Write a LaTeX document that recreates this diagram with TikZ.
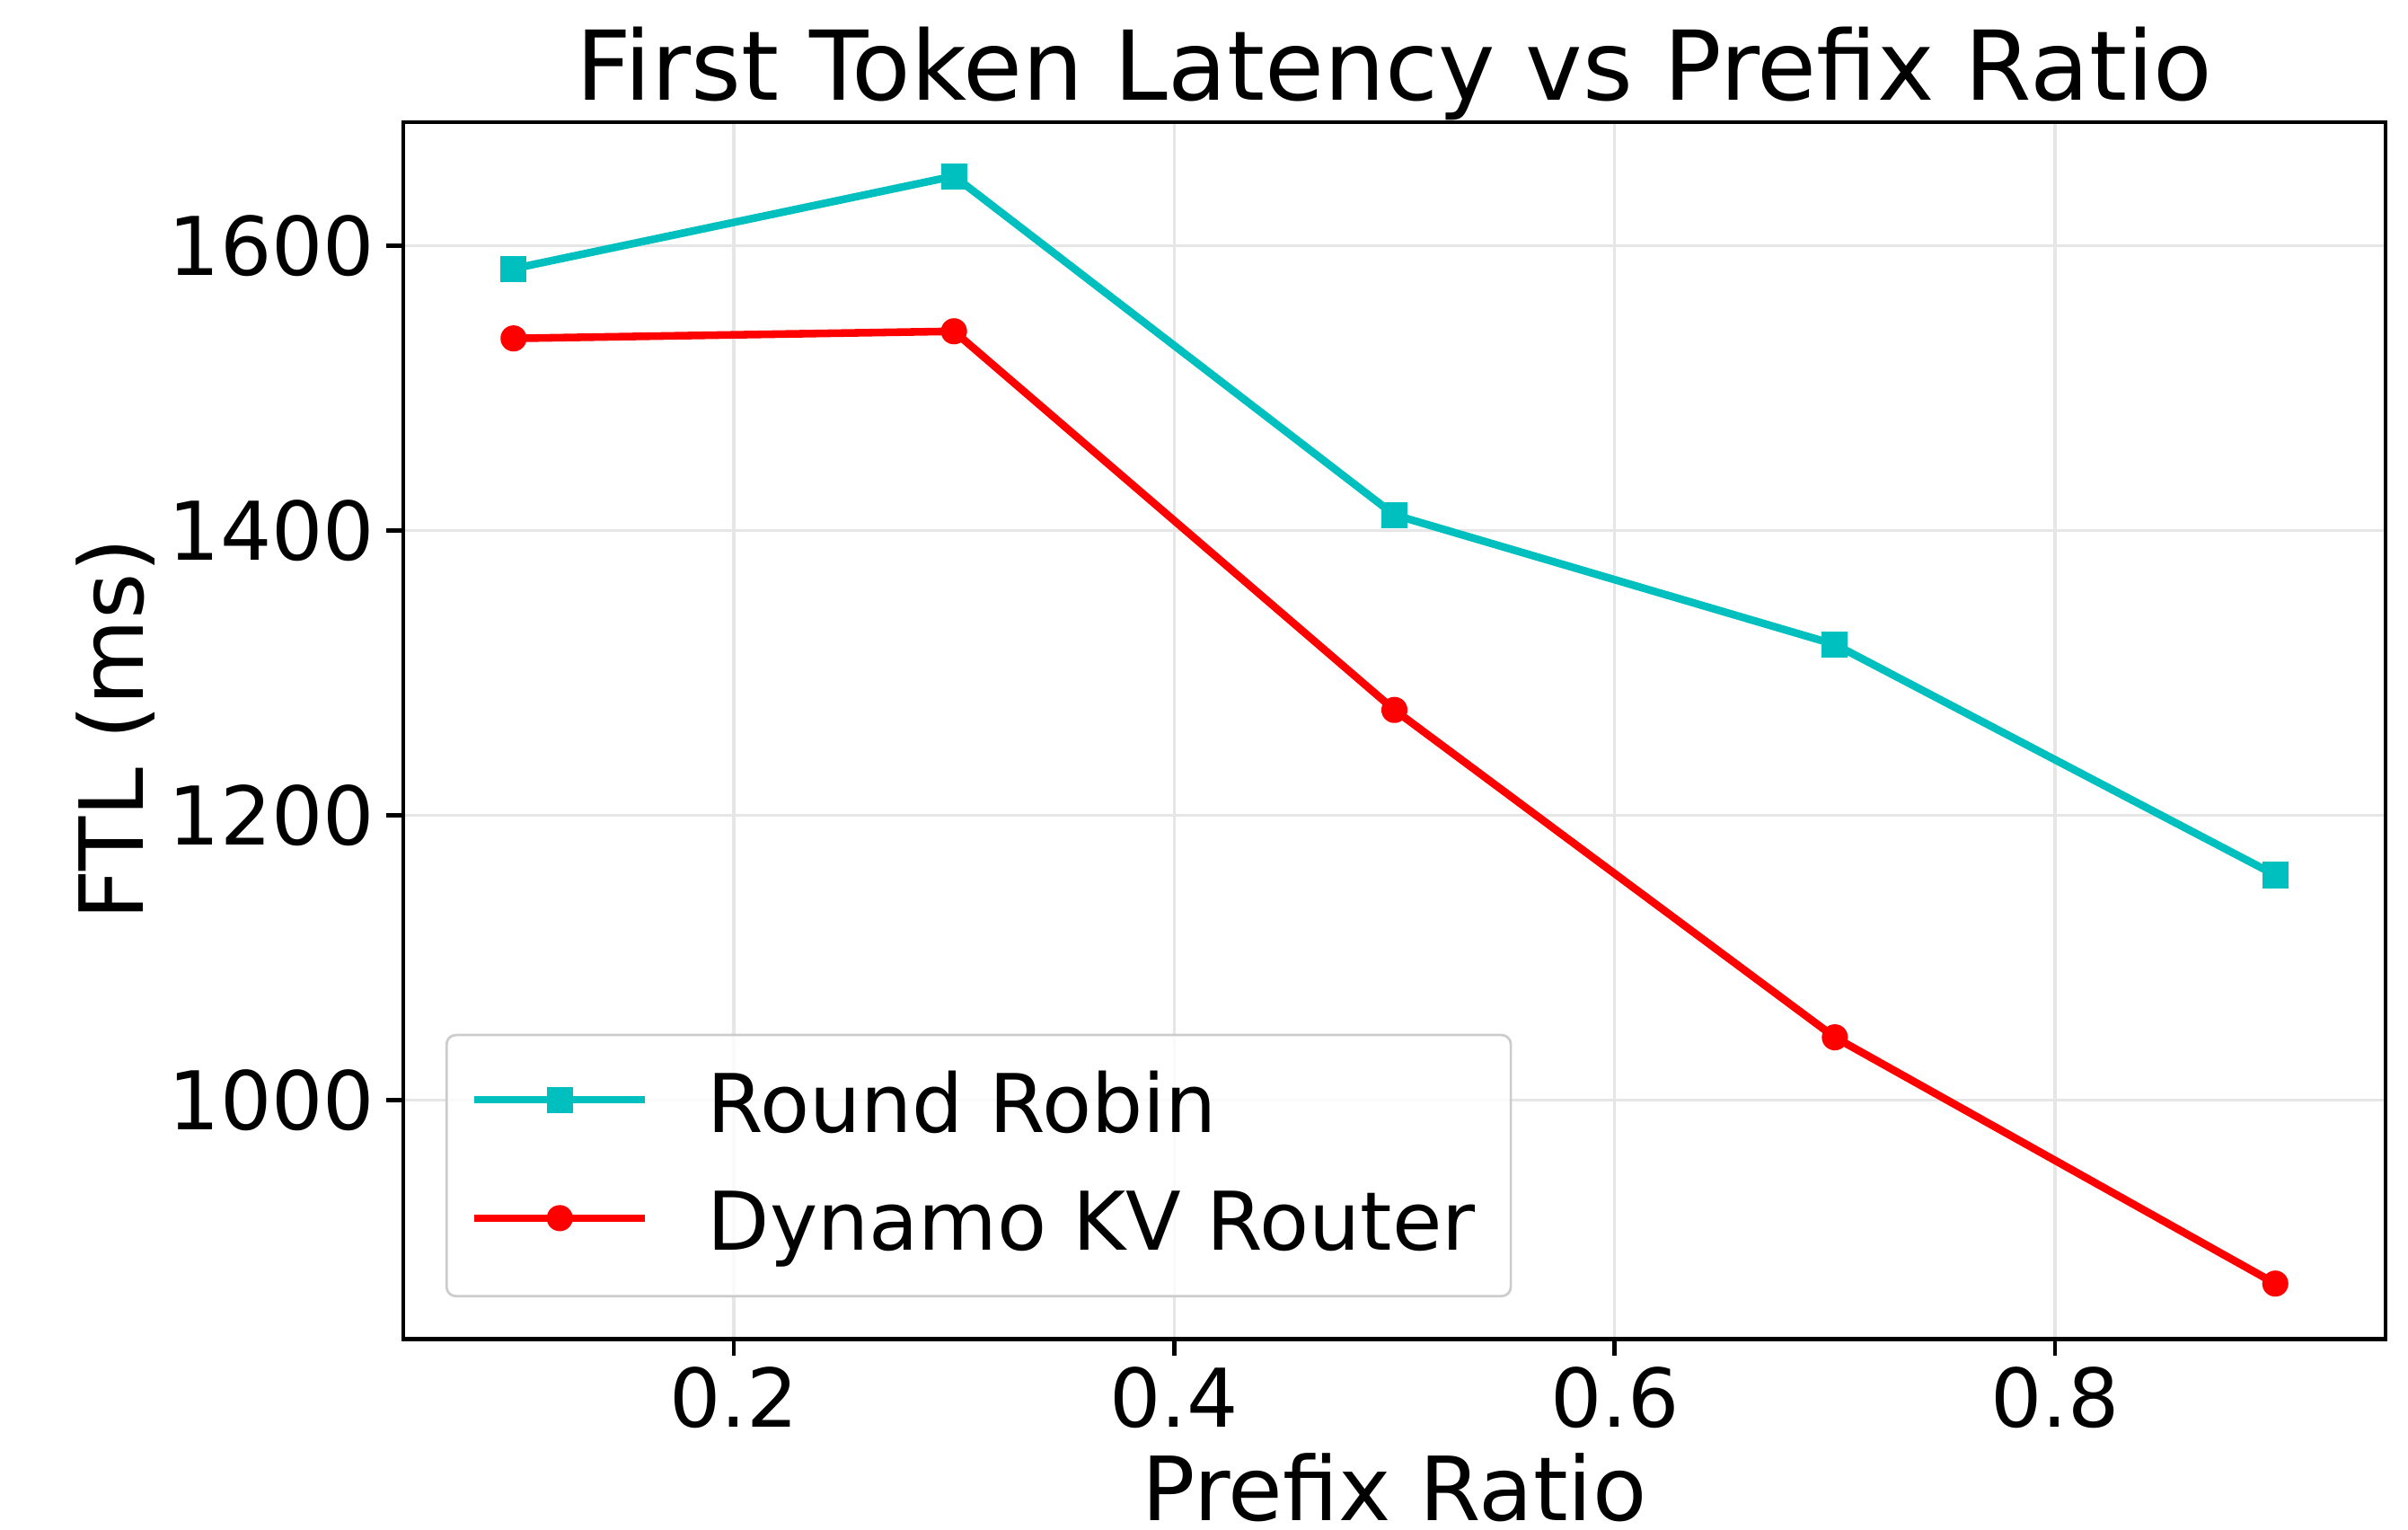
\documentclass[tikz,border=0pt]{standalone}
\usepackage{fontspec}
\setmainfont{DejaVu Sans}
\definecolor{rrcol}{rgb}{0,0.75,0.75}
\definecolor{kvcol}{rgb}{1,0,0}
\definecolor{gridcol}{HTML}{E6E6E6}
\definecolor{legedge}{HTML}{CCCCCC}
\tikzset{
  ticklabel/.style={inner sep=0pt, font=\fontsize{15}{18}\selectfont},
  axlabel/.style={inner sep=0pt, font=\fontsize{16.4}{19}\selectfont},
  titletext/.style={inner sep=0pt, font=\fontsize{17.85}{21}\selectfont},
  gridline/.style={draw=gridcol, line width=0.2mm},
  spine/.style={draw=black, line width=0.27mm},
  tickmark/.style={draw=black, line width=0.27mm},
  series/.style={line width=0.5mm, line join=round},
  sqmark/.style={rectangle, fill=rrcol, minimum size=1.7mm, inner sep=0pt},
  dotmark/.style={circle, fill=kvcol, minimum size=1.7mm, inner sep=0pt},
  legendbox/.style={draw=legedge, line width=0.16mm, fill=white, fill opacity=0.8,
    rounded corners=0.6mm, inner sep=0pt, anchor=north west},
}
\begin{document}
\begin{tikzpicture}[x=0.1mm, y=-0.1mm]
\useasboundingbox (0,0) rectangle (1568,996);
\fill[white] (0,0) rectangle (1568,996);

% plotting area: x from 0.05 to 0.95, y from 832 to 1687 ms
\begin{scope}[shift={(191,1642.7)}, x=143.4mm, y=0.09267mm]
  \coordinate (ll) at (0.05,832);
  \coordinate (ur) at (0.95,1687);
  % grid
  \foreach \gx in {0.2,0.4,0.6,0.8}
    \draw[gridline] (\gx,832) -- (\gx,1687);
  \foreach \gy in {1000,1200,1400,1600}
    \draw[gridline] (0.05,\gy) -- (0.95,\gy);
  % ticks and tick labels
  \foreach \gx in {0.2,0.4,0.6,0.8} {
    \draw[tickmark] (\gx,832) -- ++(0mm,-1.1mm);
    \node[ticklabel] (xt\gx) at ([yshift=-3.8mm]\gx,832) {\gx};
  }
  \foreach \gy in {1000,1200,1400,1600} {
    \draw[tickmark] (0.05,\gy) -- ++(-1.1mm,0mm);
    \node[ticklabel, anchor=east] (yt\gy) at ([xshift=-1.8mm]0.05,\gy) {\gy};
  }
  % data points
  \coordinate (rr1) at (0.1,1584);
  \coordinate (rr2) at (0.3,1649);
  \coordinate (rr3) at (0.5,1411);
  \coordinate (rr4) at (0.7,1320);
  \coordinate (rr5) at (0.9,1158);
  \coordinate (kv1) at (0.1,1535);
  \coordinate (kv2) at (0.3,1540);
  \coordinate (kv3) at (0.5,1274);
  \coordinate (kv4) at (0.7,1044);
  \coordinate (kv5) at (0.9,871);
  % Round Robin series
  \draw[series, rrcol] (rr1) -- (rr2) -- (rr3) -- (rr4) -- (rr5);
  \foreach \i in {1,...,5}
    \node[sqmark] (rrm\i) at (rr\i) {};
  % Dynamo KV Router series
  \draw[series, kvcol] (kv1) -- (kv2) -- (kv3) -- (kv4) -- (kv5);
  \foreach \i in {1,...,5}
    \node[dotmark] (kvm\i) at (kv\i) {};
  % frame
  \draw[spine] (ll) rectangle (ur);
\end{scope}

% legend
\node[legendbox, minimum width=69.3mm, minimum height=17mm] (legend) at (290,673) {};
\coordinate (lga1) at (309,716);
\coordinate (lga2) at (420,716);
\draw[series, rrcol] (lga1) -- (lga2);
\node[sqmark] (lgam) at (364.5,716) {};
\node[ticklabel, anchor=base west] (lgatext) at (460,737) {Round Robin};
\coordinate (lgb1) at (309,793);
\coordinate (lgb2) at (420,793);
\draw[series, kvcol] (lgb1) -- (lgb2);
\node[dotmark] (lgbm) at (364.5,793) {};
\node[ticklabel, anchor=base west] (lgbtext) at (460,814) {Dynamo KV Router};

% titles
\node[titletext, anchor=base] (title) at (908,65) {First Token Latency vs Prefix Ratio};
\node[axlabel, anchor=base] (xlabel) at (908,990) {Prefix Ratio};
\node[axlabel, anchor=base, rotate=90] (ylabel) at (93,475) {FTL (ms)};
\end{tikzpicture}
\end{document}
